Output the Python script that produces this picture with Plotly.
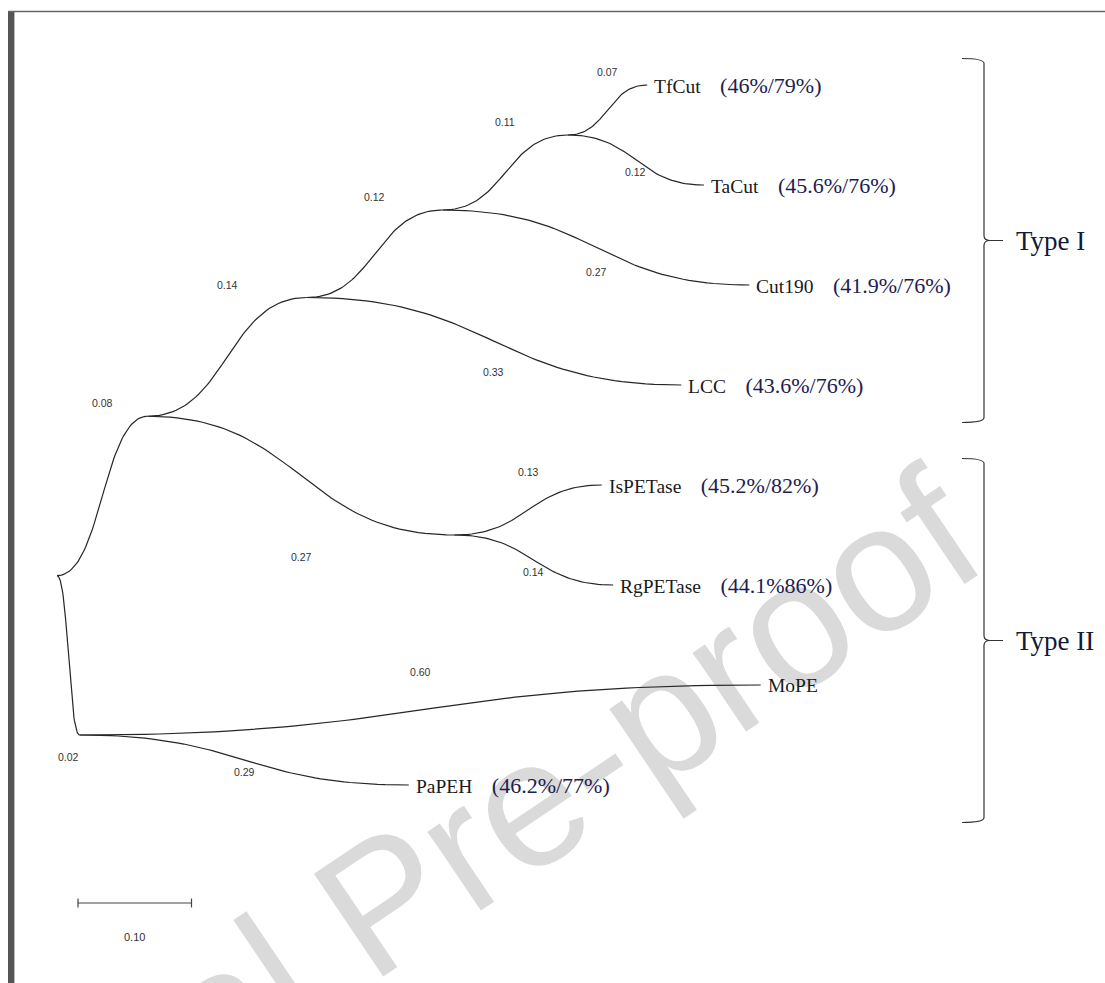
import numpy as np
import plotly.graph_objects as go

# ---- tree data -------------------------------------------------------------
leaf_names = ["TfCut", "TaCut", "Cut190", "LCC", "IsPETase", "RgPETase", "MoPE", "PaPEH"]
leaf_identity = ["46%/79%", "45.6%/76%", "41.9%/76%", "43.6%/76%",
                 "45.2%/82%", "44.1%86%", "", "46.2%/77%"]

# edges listed parent -> child, upper child first
edge_parent = ["root", "root", "n1", "n1", "n2", "n2", "n3", "n3",
               "n4", "n4", "n5", "n5", "n6", "n6"]
edge_child = ["n1", "n6", "n2", "n5", "n3", "LCC", "n4", "Cut190",
              "TfCut", "TaCut", "IsPETase", "RgPETase", "MoPE", "PaPEH"]
edge_length = [0.08, 0.02, 0.14, 0.27, 0.12, 0.33, 0.11, 0.27,
               0.07, 0.12, 0.13, 0.14, 0.60, 0.29]

clade_names = ["Type I", "Type II"]
clade_first = ["TfCut", "IsPETase"]
clade_last = ["LCC", "PaPEH"]

scale_bar_length = 0.10

# ---- layout constants ------------------------------------------------------
W, H = 1105, 983
PX_PER_UNIT = 1135.0      # pixels per substitution/site
ROOT_PX = 57.0
LEAF_TOP_PX = 85.0
LEAF_STEP_PX = 100.0

LINE_COLOR = "#262626"
SERIF = "Liberation Serif, Times New Roman, serif"
SANS = "Liberation Sans, Arial, sans-serif"

# ---- node placement --------------------------------------------------------
children = {}
for p, c, l in zip(edge_parent, edge_child, edge_length):
    children.setdefault(p, []).append((c, l))

node_x = {"root": 0.0}
node_y = {}


def place(node):
    if node in leaf_names:
        node_y[node] = float(leaf_names.index(node))
        return
    ys = []
    for child, length in children[node]:
        node_x[child] = node_x[node] + length
        place(child)
        ys.append(node_y[child])
    node_y[node] = sum(ys) / len(ys)


place("root")


def s_curve(x0, y0, x1, y1, n=60, k=0.5):
    t = np.linspace(0, 1, n)
    dx = x1 - x0
    px = [x0, x0 + k * dx, x1 - k * dx, x1]
    py = [y0, y0, y1, y1]
    b = [(1 - t) ** 3, 3 * (1 - t) ** 2 * t, 3 * (1 - t) * t ** 2, t ** 3]
    xs = sum(bi * pi for bi, pi in zip(b, px))
    ys = sum(bi * pi for bi, pi in zip(b, py))
    return xs, ys


bx, by = [], []
for p, c in zip(edge_parent, edge_child):
    xs, ys = s_curve(node_x[p], node_y[p], node_x[c], node_y[c])
    bx += list(xs) + [None]
    by += list(ys) + [None]

fig = go.Figure()
fig.add_trace(go.Scatter(x=bx, y=by, mode="lines",
                         line=dict(color=LINE_COLOR, width=1.2),
                         hoverinfo="skip", showlegend=False))

annotations = []

# branch length labels
for p, c, l in zip(edge_parent, edge_child, edge_length):
    xm = (node_x[p] + node_x[c]) / 2
    is_lower = children[p][-1][0] == c
    internal = c in children
    dy = 0.22 if (is_lower and internal) else -0.13
    annotations.append(dict(x=xm, y=node_y[c] + dy, text=f"{l:.2f}",
                            showarrow=False, xanchor="center", yanchor="middle",
                            font=dict(family=SANS, size=10.5, color="#333333")))

# leaf labels with identity values
for name, ident in zip(leaf_names, leaf_identity):
    txt = name
    if ident:
        txt += "\u00a0\u00a0\u00a0\u00a0<span style='font-size:22px;color:#1d2150'>(" + ident + ")</span>"
    annotations.append(dict(x=node_x[name], y=node_y[name], text=txt,
                            showarrow=False, xanchor="left", yanchor="middle",
                            xshift=5,
                            font=dict(family=SERIF, size=19.5, color="#1a1a1a")))

shapes = []

# clade brackets
xh = (962 - ROOT_PX) / PX_PER_UNIT
xv = (984 - ROOT_PX) / PX_PER_UNIT
xt0 = (990 - ROOT_PX) / PX_PER_UNIT
xt = (1003 - ROOT_PX) / PX_PER_UNIT
xlab = (1014 - ROOT_PX) / PX_PER_UNIT
r = 0.05
for cname, first, last in zip(clade_names, clade_first, clade_last):
    yt = node_y[first] - 0.265
    yb = node_y[last] + 0.375
    ym = (yt + yb) / 2
    path = (f"M {xh},{yt} Q {xv},{yt} {xv},{yt + r} L {xv},{ym - r} "
            f"Q {xv},{ym} {xt0},{ym} L {xt},{ym} M {xt0},{ym} "
            f"Q {xv},{ym} {xv},{ym + r} L {xv},{yb - r} Q {xv},{yb} {xh},{yb}")
    shapes.append(dict(type="path", path=path, xref="x", yref="y",
                       line=dict(color="#333333", width=1.2)))
    annotations.append(dict(x=xlab, y=ym, text=cname, showarrow=False,
                            xanchor="left", yanchor="middle",
                            font=dict(family=SERIF, size=27, color="#14183a")))

# scale bar
sb_x0 = (78 - ROOT_PX) / PX_PER_UNIT
sb_y = (903 - LEAF_TOP_PX) / LEAF_STEP_PX
shapes.append(dict(type="line", x0=sb_x0, x1=sb_x0 + scale_bar_length, y0=sb_y, y1=sb_y,
                   xref="x", yref="y", line=dict(color="#444444", width=1.2)))
for xe in (sb_x0, sb_x0 + scale_bar_length):
    shapes.append(dict(type="line", x0=xe, x1=xe, y0=sb_y - 0.045, y1=sb_y + 0.045,
                       xref="x", yref="y", line=dict(color="#444444", width=1.2)))
annotations.append(dict(x=sb_x0 + scale_bar_length / 2, y=sb_y + 0.34,
                        text=f"{scale_bar_length:.2f}", showarrow=False,
                        xanchor="center", yanchor="middle",
                        font=dict(family=SANS, size=11, color="#333333")))

# page frame
shapes.append(dict(type="rect", xref="paper", yref="paper",
                   x0=8 / W, x1=14 / W, y0=0, y1=1 - 11 / H,
                   line=dict(width=0), fillcolor="#555555", layer="above"))
shapes.append(dict(type="line", xref="paper", yref="paper",
                   x0=14.5 / W, x1=14.5 / W, y0=0, y1=1 - 12 / H,
                   line=dict(color="#bbbbbb", width=1), layer="above"))
shapes.append(dict(type="line", xref="paper", yref="paper",
                   x0=8 / W, x1=1, y0=1 - 11.5 / H, y1=1 - 11.5 / H,
                   line=dict(color="#666666", width=1.5), layer="above"))

# diagonal watermark, kept beneath the tree
wm_cx, wm_cy, wm_ang = 372.0, 888.0, 34.0
ddx, ddy = 100 * np.cos(np.radians(wm_ang)), 100 * np.sin(np.radians(wm_ang))
shapes.append(dict(type="line", xref="paper", yref="paper", layer="below",
                   x0=(wm_cx - ddx) / W, y0=1 - (wm_cy + ddy) / H,
                   x1=(wm_cx + ddx) / W, y1=1 - (wm_cy - ddy) / H,
                   line=dict(width=0, color="rgba(0,0,0,0)"),
                   label=dict(text="Journal Pre-proof", textangle=-wm_ang,
                              textposition="middle", yanchor="middle",
                              xanchor="center", padding=0,
                              font=dict(family=SANS, size=180, color="#dadada"))))

fig.update_layout(
    width=W, height=H, autosize=False,
    margin=dict(l=0, r=0, t=0, b=0, pad=0),
    paper_bgcolor="white", plot_bgcolor="white",
    xaxis=dict(visible=False, range=[-ROOT_PX / PX_PER_UNIT, (W - ROOT_PX) / PX_PER_UNIT],
               fixedrange=True),
    yaxis=dict(visible=False, range=[(H - LEAF_TOP_PX) / LEAF_STEP_PX, -LEAF_TOP_PX / LEAF_STEP_PX],
               fixedrange=True),
    shapes=shapes, annotations=annotations, showlegend=False,
)

fig.write_html("out.html")
